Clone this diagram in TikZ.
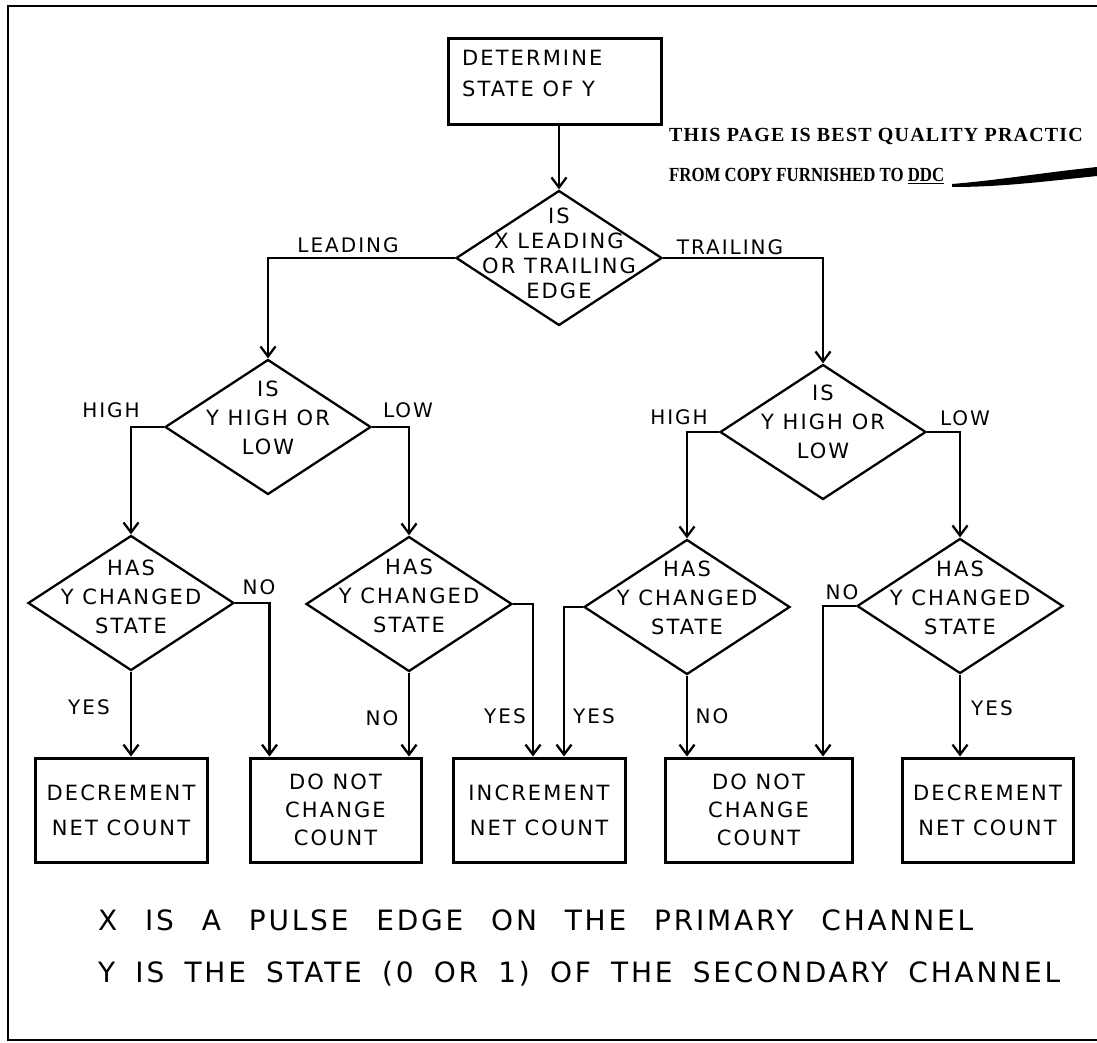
\documentclass[tikz,border=0pt]{standalone}
\usepackage{fontspec}
\setmainfont{DejaVu Sans}[LetterSpace=10]
\newfontfamily\stampfont{Liberation Serif}
\usetikzlibrary{arrows.meta}
\usetikzlibrary{shapes.geometric}
\usetikzlibrary{positioning}

\begin{document}
\begin{tikzpicture}[x=1pt,y=-1pt,
  >={Straight Barb[length=10pt,width=15pt]},line width=2.3pt,
  box/.style={draw,rectangle,line width=3pt,inner sep=0pt,align=center,font=\fontsize{21}{35}\selectfont},
  dia/.style={draw,diamond,line width=2.3pt,inner sep=0pt,minimum width=206pt,minimum height=135pt},
  dtext/.style={align=center,font=\fontsize{21}{29}\selectfont},
  lbl/.style={font=\fontsize{20}{22}\selectfont,inner sep=0pt}]
  \tikzstyle{stamp}=[font=\stampfont\bfseries\fontsize{20}{22}\selectfont,anchor=west,inner sep=0pt]

  \useasboundingbox (0,0) rectangle (1097,1043);
  \draw[line width=2pt] (1097,6) -- (8,6) -- (8,1040) -- (1097,1040);

  % start and stamp
  \node[box,minimum width=213pt,minimum height=86pt] (det) at (554.5,82) {};
  \node[dtext,align=left,anchor=north west,inner sep=0pt,font=\fontsize{21}{31}\selectfont] (dettext) at (461,49) {DETERMINE\\STATE OF Y};
  \node[stamp] (stamp1) at (668,137) {\addfontfeature{LetterSpace=6}THIS PAGE IS BEST QUALITY PRACTIC};
  \node[stamp] (stamp2) at (668,176) {\scalebox{0.84}[1]{FROM COPY FURNISHED TO \underline{DDC}}};
  \fill (952,184) .. controls (1000,180) and (1040,173) .. (1097,167) -- (1097,176) .. controls (1040,182) and (1000,187) .. (952,187) -- cycle;

  % decisions
  \node[dia,label={[dtext,yshift=5pt,font=\fontsize{21}{25}\selectfont]center:IS\\X LEADING\\OR TRAILING\\EDGE}] (d1) at (559,258) {};
  \node[dia,label={[dtext,yshift=9pt]center:IS\\Y HIGH OR\\LOW}] (d2) at (268,427) {};
  \node[dia,label={[dtext,yshift=10pt]center:IS\\Y HIGH OR\\LOW}] (d3) at (823,432) {};
  \node[dia,label={[dtext,yshift=6pt]center:HAS\\Y CHANGED\\STATE}] (d4) at (131,603) {};
  \node[dia,label={[dtext,yshift=8pt]center:HAS\\Y CHANGED\\STATE}] (d5) at (409,604) {};
  \node[dia,label={[dtext,yshift=9pt]center:HAS\\Y CHANGED\\STATE}] (d6) at (687,607) {};
  \node[dia,label={[dtext,yshift=8pt]center:HAS\\Y CHANGED\\STATE}] (d7) at (960,606) {};

  % results
  \node[box,minimum width=172pt,minimum height=104pt] (b1) at (121,810) {DECREMENT\\NET COUNT};
  \node[box,minimum width=171pt,minimum height=104pt,font=\fontsize{21}{28}\selectfont] (b2) at (335.5,810) {DO NOT\\CHANGE\\COUNT};
  \node[box,minimum width=172pt,minimum height=104pt] (b3) at (539,810) {INCREMENT\\NET COUNT};
  \node[box,minimum width=187pt,minimum height=104pt,font=\fontsize{21}{28}\selectfont] (b4) at (758.5,810) {DO NOT\\CHANGE\\COUNT};
  \node[box,minimum width=171pt,minimum height=104pt] (b5) at (987.5,810) {DECREMENT\\NET COUNT};

  % connectors
  \draw[->] (det.south -| d1.north) -- (d1.north);
  \draw[->] (d1.west) -| (d2.north);
  \draw[->] (d1.east) -| (d3.north);
  \draw[->] (d2.west) -| (d4.north);
  \draw[->] (d2.east) -| (d5.north);
  \draw[->] (d3.west) -| (d6.north);
  \draw[->] (d3.east) -| (d7.north);
  \draw[->] (d4.south) -- (d4.south |- b1.north);
  \draw[->] (d4.east) -| ([xshift=-66pt]b2.north);
  \draw[->] (d5.south) -- (d5.south |- b2.north);
  \draw[->] (d5.east) -| ([xshift=-6pt]b3.north);
  \draw[->] (d6.west) -| ([xshift=25pt]b3.north);
  \draw[->] (d6.south) -- (d6.south |- b4.north);
  \draw[->] (d7.west) -| ([xshift=64.5pt]b4.north);
  \draw[->] (d7.south) -- (d7.south |- b5.north);

  % branch labels
  \node[lbl] (lead) at (348,245) {LEADING};
  \node[lbl] (trail) at (730,247) {TRAILING};
  \node[lbl] (high1) at (111,410) {HIGH};
  \node[lbl] (low1) at (408,410) {LOW};
  \node[lbl] (high2) at (679,417) {HIGH};
  \node[lbl] (low2) at (965,418) {LOW};
  \node[lbl] (no1) at (259,587) {NO};
  \node[lbl] (no4) at (842,592) {NO};
  \node[lbl] (yes1) at (89,707) {YES};
  \node[lbl] (no2) at (382,718) {NO};
  \node[lbl] (yes2) at (505,716) {YES};
  \node[lbl] (yes3) at (594,716) {YES};
  \node[lbl] (no3) at (712,716) {NO};
  \node[lbl] (yes4) at (992,708) {YES};

  % notes
  \node[lbl,anchor=west,font=\fontsize{28}{30}\selectfont] (note1) at (97,920) {\makebox[875pt][s]{X IS A PULSE EDGE ON THE PRIMARY CHANNEL}};
  \node[lbl,anchor=west,font=\fontsize{28}{30}\selectfont] (note2) at (97,974) {\makebox[962pt][s]{Y IS THE STATE (0 OR 1) OF THE SECONDARY CHANNEL}};
\end{tikzpicture}
\end{document}
